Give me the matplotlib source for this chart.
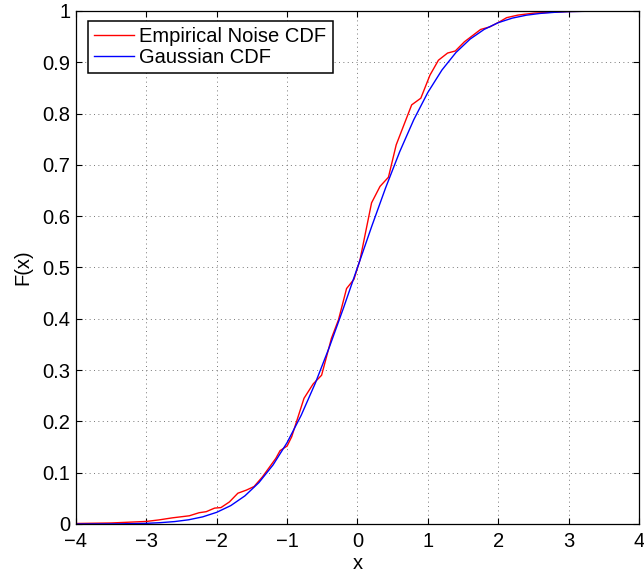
import numpy as np
import matplotlib
matplotlib.use('Agg')
import matplotlib.pyplot as plt

# empirical noise CDF
xEmp = [-4.0, -3.5, -3.0, -2.82, -2.63, -2.39, -2.25, -2.15, -2.03, -1.94,
        -1.82, -1.70, -1.58, -1.47, -1.35, -1.16, -1.10, -1.00, -0.935, -0.76,
        -0.63, -0.51, -0.37, -0.27, -0.155, -0.05, 0.036, 0.20, 0.32, 0.44,
        0.55, 0.77, 0.90, 1.03, 1.15, 1.28, 1.39, 1.52, 1.75, 1.88,
        2.02, 2.12, 2.28, 2.52, 3.0, 3.5, 4.0]
yEmp = [0.001, 0.002, 0.005, 0.008, 0.012, 0.016, 0.022, 0.024, 0.031, 0.032,
        0.043, 0.060, 0.066, 0.073, 0.092, 0.128, 0.143, 0.152, 0.170, 0.245,
        0.273, 0.290, 0.362, 0.398, 0.459, 0.477, 0.515, 0.626, 0.658, 0.676,
        0.739, 0.817, 0.830, 0.875, 0.904, 0.918, 0.922, 0.940, 0.964, 0.969,
        0.979, 0.987, 0.992, 0.996, 0.999, 1.0, 1.0]

# gaussian CDF curve
xGauss = [-4.0, -3.8, -3.6, -3.4, -3.2, -3.0, -2.8, -2.6, -2.4, -2.2,
          -2.0, -1.8, -1.6, -1.4, -1.2, -1.0, -0.8, -0.6, -0.4, -0.2,
          0.0, 0.2, 0.4, 0.6, 0.8, 1.0, 1.2, 1.4, 1.6, 1.8,
          2.0, 2.2, 2.4, 2.6, 2.8, 3.0, 3.2, 3.4, 3.6, 3.8, 4.0]
yGauss = [0.0000, 0.0001, 0.0002, 0.0003, 0.0007, 0.0013, 0.0026, 0.0047, 0.0082, 0.0139,
          0.0228, 0.0359, 0.0548, 0.0808, 0.1151, 0.1587, 0.2119, 0.2743, 0.3446, 0.4207,
          0.5000, 0.5793, 0.6554, 0.7257, 0.7881, 0.8413, 0.8849, 0.9192, 0.9452, 0.9641,
          0.9772, 0.9861, 0.9918, 0.9953, 0.9974, 0.9987, 0.9993, 0.9997, 0.9998, 0.9999, 1.0000]

xTicks = [-4, -3, -2, -1, 0, 1, 2, 3, 4]
yTicks = [0, 0.1, 0.2, 0.3, 0.4, 0.5, 0.6, 0.7, 0.8, 0.9, 1]
yTickLabels = ['0', '0.1', '0.2', '0.3', '0.4', '0.5', '0.6', '0.7', '0.8', '0.9', '1']

fontsize = 14.5
plt.rcParams['font.family'] = ['Liberation Sans', 'DejaVu Sans']

fig = plt.figure(figsize=(6.44, 5.75), dpi=100)
ax = fig.add_axes([0.118, 0.0887, 0.8742, 0.8922])

ax.plot(xEmp, yEmp, color='red', linewidth=1.0, label='Empirical Noise CDF')
ax.plot(xGauss, yGauss, color='blue', linewidth=1.0, label='Gaussian CDF')

ax.set_xlim(-4, 4)
ax.set_ylim(0, 1)
ax.set_xticks(xTicks)
ax.set_yticks(yTicks)
ax.set_yticklabels(yTickLabels)

# matlab-like dotted grid and inward ticks on all sides
ax.grid(True, linestyle=(0, (1, 3.5)), color='#777777', linewidth=0.7)
ax.tick_params(direction='in', top=True, right=True, length=4, width=0.8,
               labelsize=fontsize)
ax.tick_params(axis='x', pad=6)
ax.tick_params(axis='y', pad=4)
for s in ax.spines.values():
    s.set_linewidth(0.9)

ax.set_xlabel('x', fontsize=fontsize, labelpad=2)
ax.set_ylabel('F(x)', fontsize=fontsize, labelpad=7)

leg = ax.legend(loc='upper left', bbox_to_anchor=(0.0213, 0.9805),
                borderaxespad=0, fancybox=False, edgecolor='black',
                framealpha=1, fontsize=fontsize, handlelength=2.0,
                handletextpad=0.25, borderpad=0.3, labelspacing=0.12)
leg.get_frame().set_linewidth(1.1)

fig.savefig('out.png', dpi=100)
